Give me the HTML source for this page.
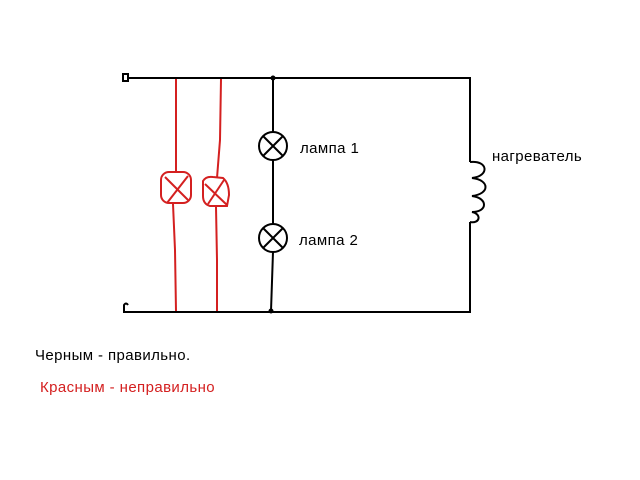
<!DOCTYPE html>
<html><head><meta charset="utf-8"><style>
body{margin:0;background:#fff;}
svg{display:block}
text{font-family:"Liberation Sans",sans-serif;font-size:15px;letter-spacing:0.4px}
</style></head><body>
<svg width="640" height="480" viewBox="0 0 640 480" xmlns="http://www.w3.org/2000/svg">
<g stroke="#000" stroke-width="2" fill="none">
<path d="M128 78 H470 V162"/>
<path d="M470 222 V312 H128"/>
<path d="M470 162 C488 160 490 176 472 178 C490 180 490 194 472 196 C488 198 488 212 472 212 C482 214 480 224 470 222"/>
<path d="M273 78 V132 M273 160 V224 M273 252 L271 311"/>
<circle cx="273" cy="146" r="14"/>
<circle cx="273" cy="238" r="14"/>
<path d="M263 136 L283 156 M283 136 L263 156 M263 228 L283 248 M283 228 L263 248"/>
<rect x="123" y="74" width="5" height="7"/>
<path d="M130 312 H124 V305 Q126 302 128 305"/>
</g>
<circle cx="273" cy="78" r="2.5" fill="#000"/>
<circle cx="271" cy="311" r="2.5" fill="#000"/>
<g stroke="#d42020" stroke-width="2" fill="none">
<path d="M176 79 V172 M173 204 L175 250 L176 311"/>
<path d="M221 79 L220 140 L217 178 M216 207 L217 260 L217 311"/>
<rect x="161" y="172" width="30" height="31" rx="8"/>
<path d="M165 177 L188 200 M188 176 L167 203"/>
<path d="M203 181 Q206 176 213 177 L223 178 Q229 183 229 195 L227 206 L210 206 Q203 204 203 196 Z"/>
<path d="M205 184 L227 205 M224 180 L208 204"/>
</g>
<text x="300" y="153">лампа 1</text>
<text x="299" y="245">лампа 2</text>
<text x="492" y="161">нагреватель</text>
<text x="35" y="360">Черным - правильно.</text>
<text x="40" y="392" fill="#d42020">Красным - неправильно</text>
</svg>
</body></html>
